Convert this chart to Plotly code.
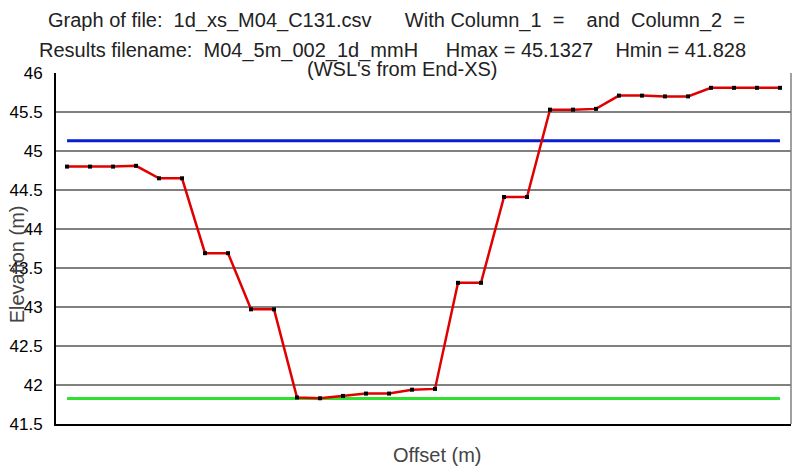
import plotly.graph_objects as go

# cross-section 1d_xs_M04_C131, 5 m spacing
offset = [i * 5 for i in range(32)]
elevation = [44.80, 44.80, 44.80, 44.81, 44.65, 44.65, 43.69, 43.69,
             42.97, 42.97, 41.84, 41.83, 41.86, 41.89, 41.89, 41.94,
             41.95, 43.31, 43.31, 44.41, 44.41, 45.53, 45.53, 45.54,
             45.71, 45.71, 45.70, 45.70, 45.81, 45.81, 45.81, 45.81]

hmax = 45.1327
hmin = 41.828

sp = "\u00a0"
title_lines = [
    "Graph of file:" + sp * 2 + "1d_xs_M04_C131.csv" + sp * 6 + "With" + sp + "Column_1" + sp * 2
    + "=" + sp * 4 + "and" + sp * 2 + "Column_2" + sp * 2 + "=",
    "Results filename:" + sp * 2 + "M04_5m_002_1d_mmH" + sp * 5 + "Hmax = 45.1327" + sp * 4
    + "Hmin = 41.828",
    "(WSL's from End-XS)",
]
title_x = [0.4626, 0.458, 0.471]
title_y = [1.149, 1.064, 1.010]

font = "Liberation Sans, Arial, sans-serif"

fig = go.Figure()
fig.add_trace(go.Scatter(x=[offset[0], offset[-1]], y=[hmax, hmax], mode="lines",
                         line=dict(color="#0a1ecf", width=3), hoverinfo="skip"))
fig.add_trace(go.Scatter(x=[offset[0], offset[-1]], y=[hmin, hmin], mode="lines",
                         line=dict(color="#2fe02f", width=3), hoverinfo="skip"))
fig.add_trace(go.Scatter(x=offset, y=elevation, mode="lines+markers",
                         line=dict(color="#e00000", width=2.5),
                         marker=dict(symbol="square", size=4, color="black")))

for txt, xx, yy in zip(title_lines, title_x, title_y):
    fig.add_annotation(text=txt, xref="paper", yref="paper", x=xx, y=yy,
                       xanchor="center", yanchor="middle", showarrow=False,
                       font=dict(family=font, size=20, color="#222222"))

fig.add_annotation(text="Elevation (m)", xref="paper", yref="paper", x=-0.053, y=0.455,
                   textangle=-90, showarrow=False, xanchor="center", yanchor="middle",
                   font=dict(family=font, size=20, color="#444444"))
fig.add_annotation(text="Offset (m)", xref="paper", yref="paper", x=0.519, y=-0.087,
                   showarrow=False, xanchor="center", yanchor="middle",
                   font=dict(family=font, size=20, color="#444444"))

# grey right border
fig.add_shape(type="line", xref="paper", yref="paper", x0=1, x1=1, y0=0, y1=1,
              line=dict(color="#808080", width=1.5))

# page body adds 8px, so figure is sized to fit inside the window
fig.update_layout(
    width=792, height=459,
    margin=dict(l=48, r=9, t=65, b=43),
    paper_bgcolor="white", plot_bgcolor="white",
    showlegend=False,
    font=dict(family=font, size=16, color="black"),
)
fig.update_xaxes(range=[-2.4, 157.4], showticklabels=False, showgrid=False,
                 zeroline=False, showline=True, linecolor="black", linewidth=2,
                 automargin=False)
fig.update_yaxes(range=[41.5, 46], dtick=0.5, tick0=41.5, showgrid=True,
                 gridcolor="#808080", gridwidth=1.5, zeroline=False,
                 showline=True, linecolor="black", linewidth=2, automargin=False,
                 ticklabelstandoff=8, tickfont=dict(size=17, color="black"))

fig.write_html("out.html")
